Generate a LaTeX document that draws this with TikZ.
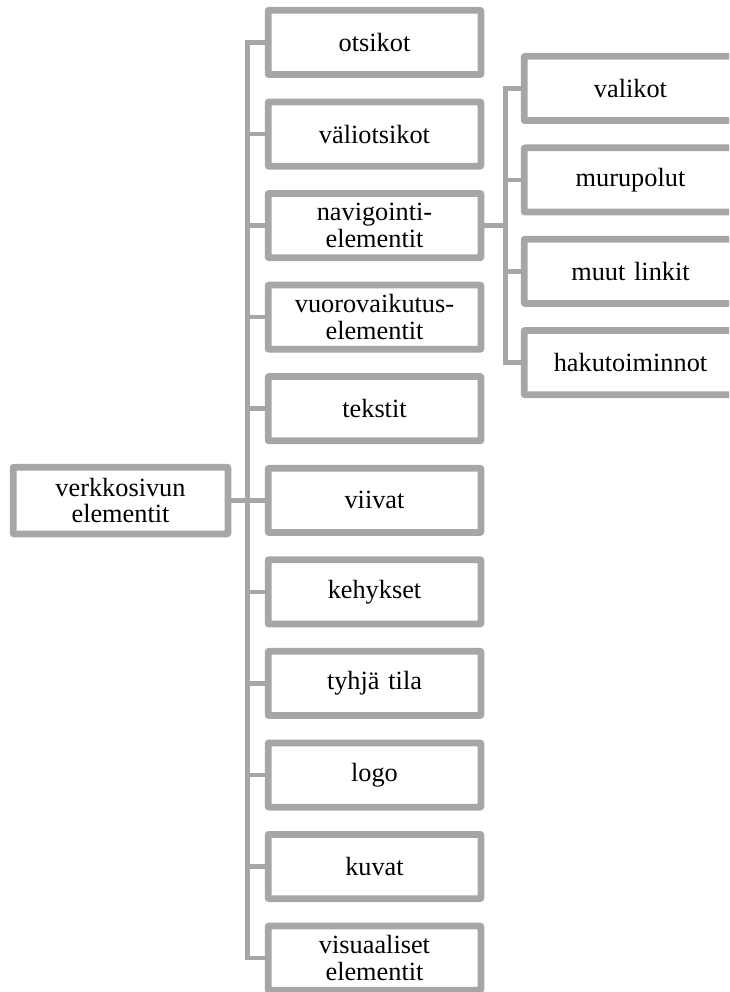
\documentclass[tikz,border=0pt]{standalone}
\usepackage{fontspec}
\setmainfont{Liberation Serif}
\definecolor{linegray}{HTML}{A6A6A6}
\begin{document}
\begin{tikzpicture}[x=1pt,y=-1pt,
  item/.style={draw=linegray, line width=4.5pt, fill=white, rounded corners=2pt,
    minimum width=210.5pt, minimum height=62pt, inner sep=0pt,
    align=center, text width=205pt,
    font=\fontsize{26.3}{26.7}\selectfont},
  link/.style={draw=linegray, line width=4.5pt},
  outline/.style={draw=linegray, line width=4.5pt, rounded corners=2pt}]
\useasboundingbox (0,0) rectangle (729,992);
\clip (0,0) rectangle (729,992);

% branching points of the two trees
\coordinate (hub) at (247.5,500.5);
\coordinate (subhub) at (505.5,225.6);

% root
\node[item, minimum width=212.5pt, minimum height=64.5pt] (root) at (120.5,500.5) {verkkosivun\\elementit};

% first level
\node[item] (otsikot)  at (374.5,42.5)  {otsikot};
\node[item] (vali)     at (374.5,134.1) {väliotsikot};
\node[item] (navi)     at (374.5,225.6) {navigointi-\\elementit};
\node[item] (vuoro)    at (374.5,317.2) {vuorovaikutus-\\elementit};
\node[item] (tekstit)  at (374.5,408.7) {tekstit};
\node[item] (viivat)   at (374.5,500.3) {viivat};
\node[item] (kehykset) at (374.5,591.9) {kehykset};
\node[item] (tyhja)    at (374.5,683.4) {tyhjä tila};
\node[item] (logo)     at (374.5,775.0) {logo};
\node[item] (kuvat)    at (374.5,866.5) {kuvat};
\node[item] (visu)     at (374.5,958.1) {visuaaliset\\elementit};

% second level under navigation elements
\node[item] (valikot)  at (630.5,88.5)  {valikot};
\node[item] (muru)     at (630.5,180.0) {murupolut};
\node[item] (muut)     at (630.5,271.3) {muut linkit};
\node[item] (haku)     at (630.5,362.6) {hakutoiminnot};

% connectors
\draw[link] (root.east) -- (hub);
\foreach \c in {otsikot,vali,navi,vuoro,tekstit,viivat,kehykset,tyhja,logo,kuvat,visu}
  \draw[link] (hub) |- (\c.west);
\draw[link] (navi.east) -- (subhub);
\foreach \c in {valikot,muru,muut,haku}
  \draw[link] (subhub) |- (\c.west);

% box outlines drawn again over the connector ends
\foreach \c in {root,otsikot,vali,navi,vuoro,tekstit,viivat,kehykset,tyhja,logo,kuvat,visu,valikot,muru,muut,haku}
  \draw[outline] (\c.north west) rectangle (\c.south east);
\end{tikzpicture}
\end{document}
